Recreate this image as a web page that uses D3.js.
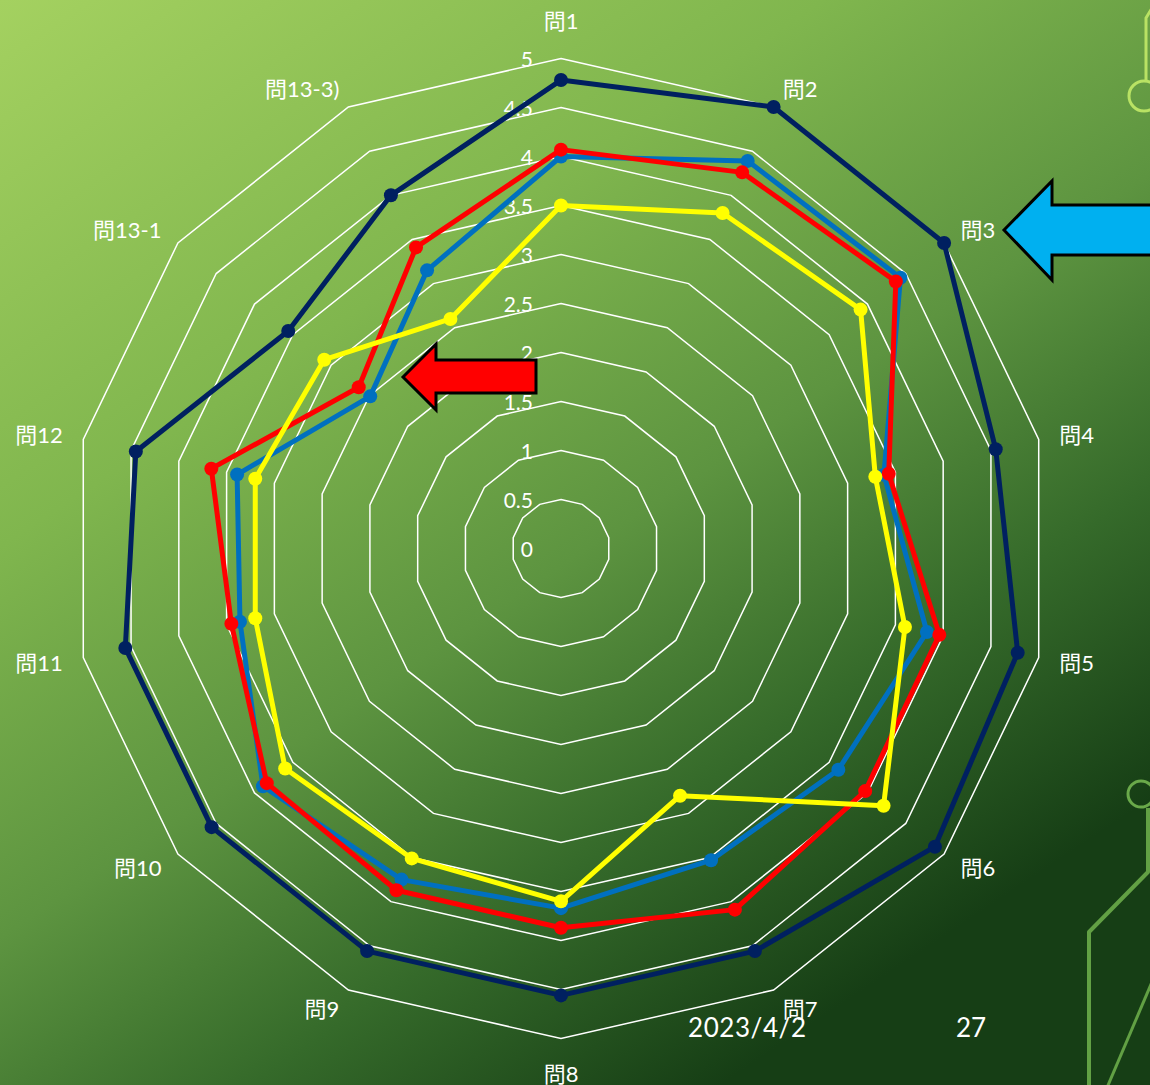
<!DOCTYPE html>
<html><head><meta charset="utf-8">
<script src="https://cdn.jsdelivr.net/npm/d3@7"></script>
<style>html,body{margin:0;padding:0;overflow:hidden;background:#2d5a23}svg{display:block}</style>
</head><body>
<svg id="chart" width="1150" height="1085"></svg>
<script>
// ---- data ----
const categories = ['問1','問2','問3','問4','問5','問6','問7','問8','問9','問10','問11','問12','問13-1','問13-3)'];
const navyValues   = [4.78, 5.00, 5.00, 4.55, 4.78, 4.88, 4.56, 4.56, 4.56, 4.56, 4.56, 4.45, 3.56, 4.00];
const blueValues   = [4.00, 4.39, 4.43, 3.38, 3.83, 3.62, 3.53, 3.67, 3.75, 3.89, 3.36, 3.39, 2.49, 3.15];
const redValues    = [4.07, 4.26, 4.37, 3.43, 3.96, 3.97, 4.09, 3.87, 3.87, 3.84, 3.45, 3.66, 2.64, 3.41];
const yellowValues = [3.50, 3.80, 3.91, 3.29, 3.60, 4.21, 2.80, 3.60, 3.51, 3.60, 3.20, 3.20, 3.09, 2.60];
const tickValues = [0, 0.5, 1, 1.5, 2, 2.5, 3, 3.5, 4, 4.5, 5];
const tickLabels = ['0','0.5','1','1.5','2','2.5','3','3.5','4','4.5','5'];
const dateText = '2023/4/2';
const pageText = '27';

const series = [
  {values: navyValues,   color: '#002060'},
  {values: blueValues,   color: '#0070C0'},
  {values: redValues,    color: '#FF0000'},
  {values: yellowValues, color: '#FFFF00'}
];

// ---- layout ----
const W = 1150, H = 1085;
const cx = 561, cy = 548.5, R = 490;
const FONT = "Lato, 'Noto Sans CJK JP', sans-serif";

const svg = d3.select('#chart');
const defs = svg.append('defs');
const grad = defs.append('linearGradient').attr('id','bg')
  .attr('gradientUnits','userSpaceOnUse').attr('x1',0).attr('y1',0).attr('x2',720).attr('y2',1085);
[[0,'#a4d160'],[0.35,'#80b64e'],[0.6,'#5d9440'],[0.8,'#356a2a'],[1,'#163e15']].forEach(([o,c])=>
  grad.append('stop').attr('offset',o).attr('stop-color',c));
svg.append('rect').attr('width',W).attr('height',H).attr('fill','url(#bg)');

// decorative circuit lines
const deco = svg.append('g').attr('fill','none').attr('stroke-linejoin','round');
deco.append('path').attr('d','M1152,8 L1146,18 L1146,80').attr('stroke','#b9e264').attr('stroke-width',3);
deco.append('circle').attr('cx',1144).attr('cy',96).attr('r',15).attr('stroke','#b9e264').attr('stroke-width',3);
deco.append('circle').attr('cx',1141).attr('cy',794).attr('r',13).attr('stroke','#6aa94a').attr('stroke-width',3);
deco.append('path').attr('d','M1148,808 L1148,872 L1089,932 L1089,1090').attr('stroke','#62a044').attr('stroke-width',4);
deco.append('path').attr('d','M1152,982 L1106,1090').attr('stroke','#62a044').attr('stroke-width',3);

const g = svg.append('g').attr('transform',`translate(${cx},${cy})`);

const rScale = d3.scaleLinear().domain([0,5]).range([0,R]);
const aScale = d3.scaleLinear().domain([0,categories.length]).range([0,2*Math.PI]);

// grid polygons
const gridLine = d3.lineRadial().angle((d,i)=>aScale(i)).radius(d=>rScale(d)).curve(d3.curveLinearClosed);
g.append('g').selectAll('path').data(tickValues.filter(t=>t>0)).join('path')
  .attr('d', t => gridLine(categories.map(()=>t)))
  .attr('fill','none').attr('stroke','#ffffff').attr('stroke-width',1.5);

// tick labels
g.append('g').selectAll('text').data(tickValues).join('text')
  .attr('x',-28).attr('y',d=>-rScale(d))
  .attr('text-anchor','end').attr('dominant-baseline','central')
  .attr('fill','#ffffff').attr('font-family',FONT).attr('font-size',21)
  .text((d,i)=>tickLabels[i]);

// series
const seriesLine = d3.lineRadial().angle((d,i)=>aScale(i)).radius(d=>rScale(d)).curve(d3.curveLinearClosed);
series.forEach(s=>{
  const sg = g.append('g');
  sg.append('path').attr('d',seriesLine(s.values)).attr('fill','none')
    .attr('stroke',s.color).attr('stroke-width',5).attr('stroke-linejoin','round');
  sg.selectAll('circle').data(s.values).join('circle')
    .attr('cx',(d,i)=>rScale(d)*Math.sin(aScale(i)))
    .attr('cy',(d,i)=>-rScale(d)*Math.cos(aScale(i)))
    .attr('r',7).attr('fill',s.color);
});

// category labels
const LR = 511;
g.append('g').selectAll('text').data(categories).join('text')
  .each(function(c,i){
    const a = aScale(i), s = Math.sin(a), co = Math.cos(a);
    const t = d3.select(this);
    if (Math.abs(s) < 0.01) {
      t.attr('x',0).attr('y', co>0 ? -528 : 524.5).attr('text-anchor','middle');
    } else {
      t.attr('x',LR*s).attr('y',-LR*co).attr('text-anchor', s>0 ? 'start' : 'end');
    }
  })
  .attr('dominant-baseline','central')
  .attr('fill','#ffffff').attr('font-family',FONT).attr('font-size',22)
  .text(d=>d);

// arrows (annotations)
const arrows = svg.append('g').attr('stroke','#000').attr('stroke-width',3).attr('stroke-linejoin','miter');
arrows.append('path').attr('d','M1004,230 L1052,181 L1052,205 L1160,205 L1160,255 L1052,255 L1052,280 Z').attr('fill','#00B0F0');
arrows.append('path').attr('d','M403,377 L436,344 L436,360 L536,360 L536,393 L436,393 L436,410 Z').attr('fill','#FF0000');

// footer texts
svg.append('text').attr('x',688).attr('y',1037).attr('fill','#fff').attr('font-family',FONT).attr('font-size',26)
  .attr('textLength',118).attr('lengthAdjust','spacing').text(dateText);
svg.append('text').attr('x',956).attr('y',1037).attr('fill','#fff').attr('font-family',FONT).attr('font-size',26)
  .text(pageText);
</script>
</body></html>
